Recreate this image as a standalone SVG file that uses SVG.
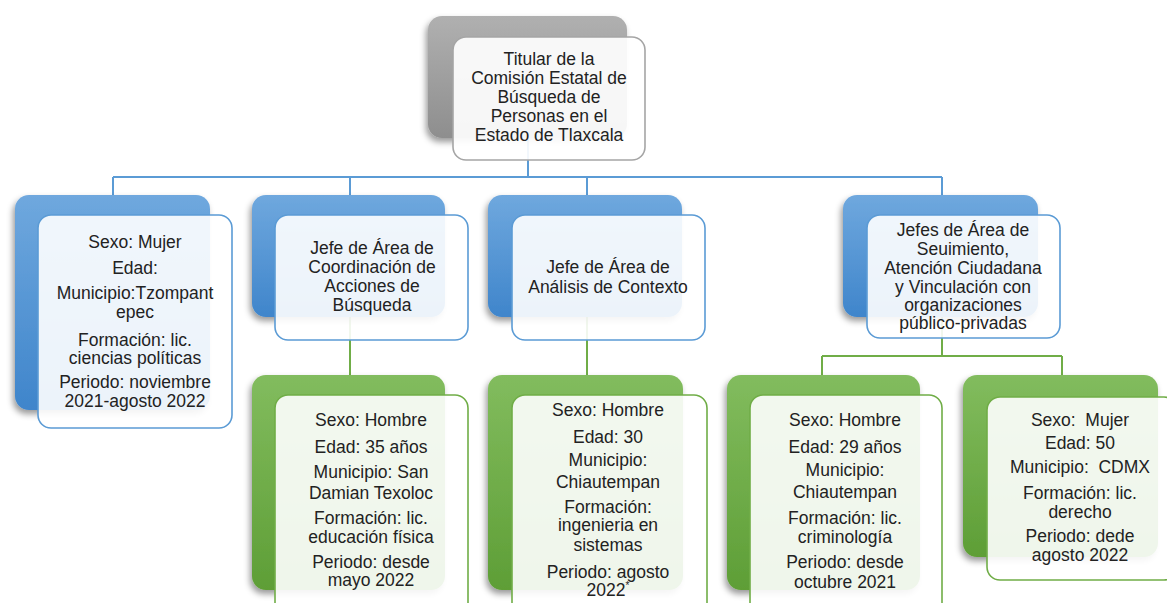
<svg xmlns="http://www.w3.org/2000/svg" width="1167" height="603" viewBox="0 0 1167 603">
<defs>
<linearGradient id="gBlue" x1="0" y1="0" x2="0" y2="1"><stop offset="0" stop-color="#6FA8DE"/><stop offset="1" stop-color="#3F85CB"/></linearGradient>
<linearGradient id="gGreen" x1="0" y1="0" x2="0" y2="1"><stop offset="0" stop-color="#82BC5E"/><stop offset="1" stop-color="#5E9E36"/></linearGradient>
<linearGradient id="gGray" x1="0" y1="0" x2="0" y2="1"><stop offset="0" stop-color="#B0B0B0"/><stop offset="1" stop-color="#8E8E8E"/></linearGradient>
<filter id="sh" x="-10%" y="-10%" width="120%" height="125%"><feDropShadow dx="-2" dy="4" stdDeviation="3" flood-color="#000" flood-opacity="0.4"/></filter>
</defs>
<style>
.bb{fill:url(#gBlue);filter:url(#sh)}
.gb{fill:url(#gGreen);filter:url(#sh)}
.yb{fill:url(#gGray);filter:url(#sh)}
.bf{fill:#ffffff;fill-opacity:0.9;stroke:#5B9BD5;stroke-width:1.6}
.gf{fill:#ffffff;fill-opacity:0.9;stroke:#70AD47;stroke-width:1.6}
.yf{fill:#ffffff;fill-opacity:0.92;stroke:#A5A5A5;stroke-width:1.6}
text{font-family:"Liberation Sans",Arial,sans-serif;font-size:17.5px;fill:#222;text-anchor:middle}
.cb{stroke:#5B9BD5;stroke-width:2;fill:none}
.cg{stroke:#70AD47;stroke-width:2;fill:none}
</style>
<rect width="1167" height="603" fill="#ffffff"/>
<g id="connectors">
<path class="cb" d="M528 138V177M113 177H942M113 177V195M350 177V195M587 177V195M942 177V195"/>
<path class="cg" d="M350 317V375M587 317V375M942 317V356M822 356H1062M822 356V375M1062 356V375"/>
</g>
<g id="n-titular">
<rect class="yb" x="428" y="16" width="199" height="122" rx="14"/>
<rect class="yf" x="453" y="37" width="192" height="123" rx="13"/>
<text x="549" y="65">Titular de la</text>
<text x="549" y="84">Comisión Estatal de</text>
<text x="549" y="103">Búsqueda de</text>
<text x="549" y="122">Personas en el</text>
<text x="549" y="141">Estado de Tlaxcala</text>
</g>
<g id="n-mujer">
<rect class="bb" x="15" y="195" width="195" height="215" rx="14"/>
<rect class="bf" x="38" y="215" width="194" height="213" rx="13"/>
<text x="135" y="248">Sexo: Mujer</text>
<text x="135" y="274">Edad:</text>
<text x="135" y="299">Municipio:Tzompant</text>
<text x="135" y="318">epec</text>
<text x="135" y="346">Formación: lic.</text>
<text x="135" y="364">ciencias políticas</text>
<text x="135" y="388">Periodo: noviembre</text>
<text x="135" y="407">2021-agosto 2022</text>
</g>
<g id="n-coordinacion">
<rect class="bb" x="252" y="195" width="193" height="122" rx="14"/>
<rect class="bf" x="275" y="215" width="193" height="125" rx="13"/>
<text x="372" y="254">Jefe de Área de</text>
<text x="372" y="273">Coordinación de</text>
<text x="372" y="292">Acciones de</text>
<text x="372" y="311">Búsqueda</text>
</g>
<g id="n-analisis">
<rect class="bb" x="488" y="195" width="194" height="122" rx="14"/>
<rect class="bf" x="512" y="215" width="193" height="125" rx="13"/>
<text x="608" y="273">Jefe de Área de</text>
<text x="608" y="293">Análisis de Contexto</text>
</g>
<g id="n-seguimiento">
<rect class="bb" x="843" y="195" width="195" height="122" rx="14"/>
<rect class="bf" x="867" y="215" width="193" height="123" rx="13"/>
<text x="963" y="236">Jefes de Área de</text>
<text x="963" y="255">Seuimiento,</text>
<text x="963" y="274">Atención Ciudadana</text>
<text x="963" y="293">y Vinculación con</text>
<text x="963" y="311">organizaciones</text>
<text x="963" y="329">público-privadas</text>
</g>
<g id="n-hombre35">
<rect class="gb" x="252" y="375" width="193" height="215" rx="14"/>
<rect class="gf" x="275" y="395" width="193" height="225" rx="13"/>
<text x="371" y="426">Sexo: Hombre</text>
<text x="371" y="453">Edad: 35 años</text>
<text x="371" y="478">Municipio: San</text>
<text x="371" y="499">Damian Texoloc</text>
<text x="371" y="524">Formación: lic.</text>
<text x="371" y="543">educación física</text>
<text x="371" y="568">Periodo: desde</text>
<text x="371" y="586">mayo 2022</text>
</g>
<g id="n-hombre30">
<rect class="gb" x="488" y="375" width="195" height="215" rx="14"/>
<rect class="gf" x="512" y="395" width="195" height="225" rx="13"/>
<text x="608" y="416">Sexo: Hombre</text>
<text x="608" y="443">Edad: 30</text>
<text x="608" y="466">Municipio:</text>
<text x="608" y="488">Chiautempan</text>
<text x="608" y="513">Formación:</text>
<text x="608" y="531">ingenieria en</text>
<text x="608" y="551">sistemas</text>
<text x="608" y="578">Periodo: agosto</text>
<text x="608" y="596">2022<tspan font-size="10" dy="-7">*</tspan></text>
</g>
<g id="n-hombre29">
<rect class="gb" x="727" y="375" width="193" height="215" rx="14"/>
<rect class="gf" x="750" y="395" width="192" height="225" rx="13"/>
<text x="845" y="426">Sexo: Hombre</text>
<text x="845" y="453">Edad: 29 años</text>
<text x="845" y="476">Municipio:</text>
<text x="845" y="498">Chiautempan</text>
<text x="845" y="524">Formación: lic.</text>
<text x="845" y="543">criminología</text>
<text x="845" y="568">Periodo: desde</text>
<text x="845" y="588">octubre 2021</text>
</g>
<g id="n-mujer50">
<rect class="gb" x="963" y="375" width="195" height="182" rx="14"/>
<rect class="gf" x="987" y="397" width="190" height="183" rx="13"/>
<text x="1080" y="426" xml:space="preserve">Sexo:  Mujer</text>
<text x="1080" y="449">Edad: 50</text>
<text x="1080" y="473" xml:space="preserve">Municipio:  CDMX</text>
<text x="1080" y="499">Formación: lic.</text>
<text x="1080" y="518">derecho</text>
<text x="1080" y="542">Periodo: dede</text>
<text x="1080" y="561">agosto 2022</text>
</g>
</svg>
